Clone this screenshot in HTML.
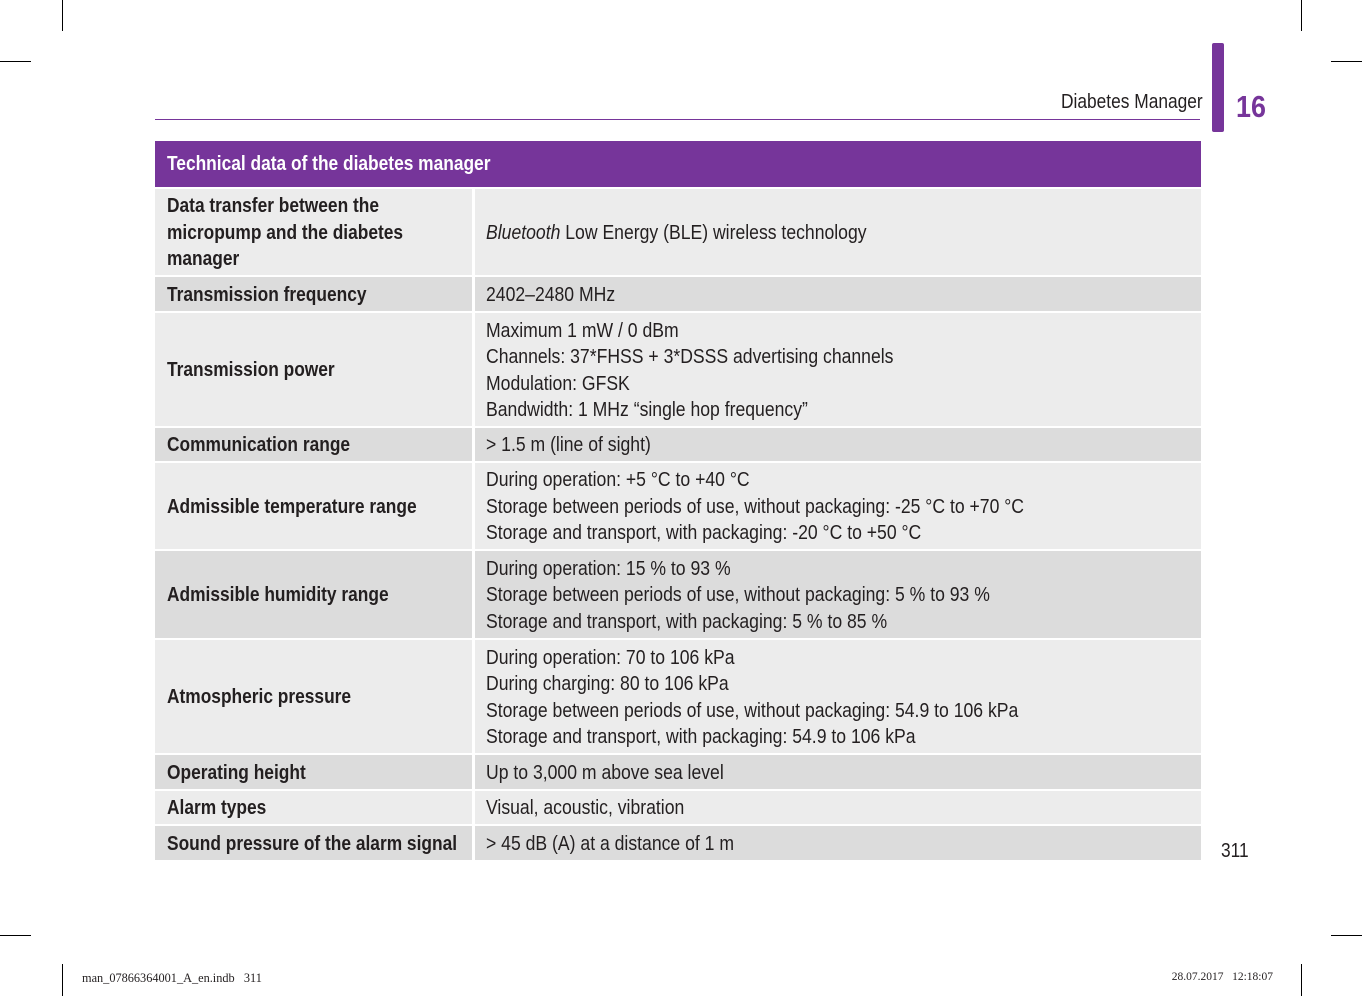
<!DOCTYPE html>
<html><head><meta charset="utf-8"><style>
body{margin:0;width:1362px;height:996px;position:relative;background:#fff;overflow:hidden;font-family:"Liberation Sans",sans-serif;color:#231f20}
.a{position:absolute}
.row{position:absolute;left:155px;width:1046px;display:flex}
.c1,.c2{display:flex;align-items:center;box-sizing:border-box;font-size:20px;line-height:26.5px;white-space:nowrap;padding-top:2px}
.c1{width:317px;padding-left:12px;font-weight:bold}
.c2{margin-left:3px;width:726px;padding-left:11px}
.s{display:inline-block;transform:scaleX(0.867);transform-origin:left center}
.c2 .s{transform:scaleX(0.88)}
.l{background:#ececec}.d{background:#dcdcdc}
.mark{position:absolute;background:#000}
</style></head><body>
<div class="mark" style="left:62px;top:0;width:1px;height:31px"></div>
<div class="mark" style="left:1301px;top:0;width:1px;height:31px"></div>
<div class="mark" style="left:0;top:61px;width:31px;height:1px"></div>
<div class="mark" style="left:1331px;top:61px;width:31px;height:1px"></div>
<div class="mark" style="left:0;top:935px;width:31px;height:1px"></div>
<div class="mark" style="left:1331px;top:935px;width:31px;height:1px"></div>
<div class="mark" style="left:62px;top:964px;width:1px;height:32px"></div>
<div class="mark" style="left:1301px;top:964px;width:1px;height:32px"></div>

<div class="a" style="left:1061px;top:91px;font-size:20px;white-space:nowrap"><span class="s">Diabetes Manager</span></div>
<div class="a" style="left:155px;top:119px;width:1045px;height:1px;background:#76359a"></div>
<div class="a" style="left:1212px;top:43px;width:12px;height:89px;background:#76359a;border-radius:2px"></div>
<div class="a" style="left:1236px;top:89px;font-size:31px;font-weight:bold;color:#76359a"><span class="s">16</span></div>

<div class="a" style="left:155px;top:141px;width:1046px;height:46px;background:#76359a;color:#fff;font-weight:bold;font-size:20px;line-height:47px;padding-left:12px;box-sizing:border-box"><span class="s">Technical data of the diabetes manager</span></div>

<div class="row" style="top:189px;height:86px"><div class="c1 l"><span class="s">Data transfer between the<br>micropump and the diabetes<br>manager</span></div><div class="c2 l"><span class="s"><i>Bluetooth</i> Low Energy (BLE) wireless technology</span></div></div>
<div class="row" style="top:277px;height:34px"><div class="c1 d"><span class="s">Transmission frequency</span></div><div class="c2 d"><span class="s">2402–2480 MHz</span></div></div>
<div class="row" style="top:313px;height:113px"><div class="c1 l"><span class="s">Transmission power</span></div><div class="c2 l"><span class="s">Maximum 1 mW / 0 dBm<br>Channels: 37*FHSS + 3*DSSS advertising channels<br>Modulation: GFSK<br>Bandwidth: 1 MHz “single hop frequency”</span></div></div>
<div class="row" style="top:428px;height:33px"><div class="c1 d"><span class="s">Communication range</span></div><div class="c2 d"><span class="s">&gt; 1.5 m (line of sight)</span></div></div>
<div class="row" style="top:463px;height:86px"><div class="c1 l"><span class="s">Admissible temperature range</span></div><div class="c2 l"><span class="s">During operation: +5 °C to +40 °C<br>Storage between periods of use, without packaging: -25 °C to +70 °C<br>Storage and transport, with packaging: -20 °C to +50 °C</span></div></div>
<div class="row" style="top:551px;height:87px"><div class="c1 d"><span class="s">Admissible humidity range</span></div><div class="c2 d"><span class="s">During operation: 15 % to 93 %<br>Storage between periods of use, without packaging: 5 % to 93 %<br>Storage and transport, with packaging: 5 % to 85 %</span></div></div>
<div class="row" style="top:640px;height:113px"><div class="c1 l"><span class="s">Atmospheric pressure</span></div><div class="c2 l"><span class="s">During operation: 70 to 106 kPa<br>During charging: 80 to 106 kPa<br>Storage between periods of use, without packaging: 54.9 to 106 kPa<br>Storage and transport, with packaging: 54.9 to 106 kPa</span></div></div>
<div class="row" style="top:755px;height:34px"><div class="c1 d"><span class="s">Operating height</span></div><div class="c2 d"><span class="s">Up to 3,000 m above sea level</span></div></div>
<div class="row" style="top:791px;height:33px"><div class="c1 l"><span class="s">Alarm types</span></div><div class="c2 l"><span class="s">Visual, acoustic, vibration</span></div></div>
<div class="row" style="top:826px;height:34px"><div class="c1 d"><span class="s">Sound pressure of the alarm signal</span></div><div class="c2 d"><span class="s">&gt; 45 dB (A) at a distance of 1 m</span></div></div>

<div class="a" style="left:1221px;top:840px;font-size:20px"><span class="s">311</span></div>
<div class="a" style="left:82px;top:971px;font-family:'Liberation Serif',serif;font-size:12.3px;white-space:nowrap">man_07866364001_A_en.indb&nbsp;&nbsp; 311</div>
<div class="a" style="right:89px;top:971px;font-family:'Liberation Serif',serif;font-size:11.5px;white-space:nowrap">28.07.2017&nbsp;&nbsp; 12:18:07</div>
</body></html>
